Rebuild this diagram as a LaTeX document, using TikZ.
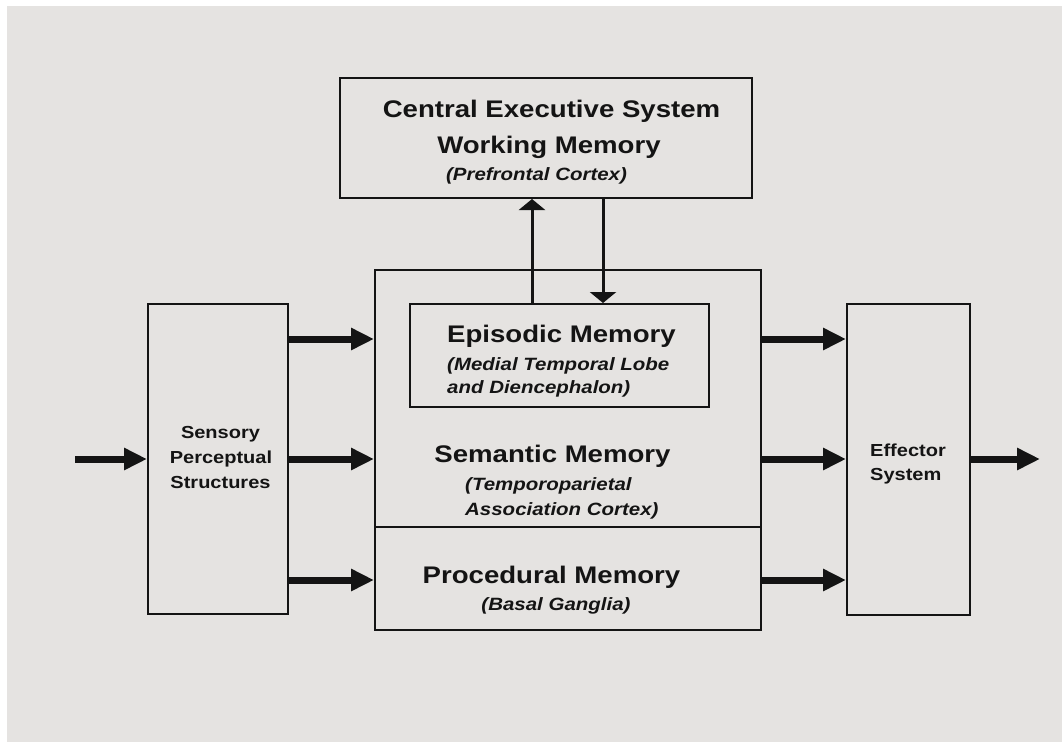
\documentclass[tikz,border=0pt]{standalone}
\usepackage{fontspec}
\setmainfont{Liberation Sans}[FakeStretch=1.15]
\usetikzlibrary{arrows.meta}
\definecolor{paper}{RGB}{229,227,225}
\definecolor{ink}{RGB}{20,20,20}
\tikzset{
  box/.style={draw=ink, line width=2pt, fill=paper, inner sep=0pt},
  bigarrow/.style={draw=ink, line width=7pt, -{Triangle[length=23pt,width=21pt]}},
  link/.style={draw=ink, line width=3pt, -{Triangle[length=11pt,width=26pt]}},
  lbl/.style={inner sep=0pt, text=ink},
  title/.style={lbl, font=\fontsize{24}{28}\selectfont\bfseries},
  sub/.style={lbl, font=\fontsize{17.8}{22}\selectfont\bfseries\itshape},
  side/.style={lbl, font=\fontsize{17.4}{22}\selectfont\bfseries}
}
\begin{document}
\begin{tikzpicture}[x=1pt,y=-1pt]
\fill[white] (0,0) rectangle (1062,742);
\fill[paper] (7,6) rectangle (1062,742);
\useasboundingbox (0,0) rectangle (1062,742);

% boxes
\node[box, minimum width=412pt, minimum height=120pt] (ces) at (546,138) {};
\node[box, minimum width=386pt, minimum height=257pt] (sem) at (568,398.5) {};
\node[box, minimum width=386pt, minimum height=103pt] (proc) at (568,578.5) {};
\node[box, minimum width=299pt, minimum height=103pt] (epi) at (559.5,355.5) {};
\node[box, minimum width=140pt, minimum height=310pt] (sens) at (218,459) {};
\node[box, minimum width=123pt, minimum height=311pt] (eff) at (908.5,459.5) {};

% texts
\node[title, anchor=base] (t1) at (551.5,117) {Central Executive System};
\node[title, anchor=base] (t2) at (549,153) {Working Memory};
\node[sub, anchor=base] (t3) at (536.5,180) {(Prefrontal Cortex)};

\node[title, anchor=base west] (e1) at (447,342) {Episodic Memory};
\node[sub, anchor=base west] (e2) at (447,370) {(Medial Temporal Lobe};
\node[sub, anchor=base west] (e3) at (447,393) {and Diencephalon)};

\node[title, anchor=base] (s1) at (552.5,462) {Semantic Memory};
\node[sub, anchor=base west] (s2) at (465,490) {(Temporoparietal};
\node[sub, anchor=base west] (s3) at (465,515) {Association Cortex)};

\node[title, anchor=base] (p1) at (551.5,583) {Procedural Memory};
\node[sub, anchor=base] (p2) at (556,610) {(Basal Ganglia)};

\node[side, anchor=base] (n1) at (220.5,438) {Sensory};
\node[side, anchor=base] (n2) at (221,463) {Perceptual};
\node[side, anchor=base] (n3) at (220.5,488) {Structures};

\node[side, anchor=base west] (f1) at (870,456) {Effector};
\node[side, anchor=base west] (f2) at (870,480) {System};

% rows and columns
\coordinate (rA) at (0,339);
\coordinate (rB) at (0,459);
\coordinate (rC) at (0,580);
\coordinate (src) at (75,459);
\coordinate (dst) at (1040,459);
\coordinate (upx) at (532,0);
\coordinate (dnx) at (603,0);

% connectors
\draw[bigarrow] (src) -- (sens.west |- src);
\draw[bigarrow] (sens.east |- rA) -- (sem.west |- rA);
\draw[bigarrow] (sens.east |- rB) -- (sem.west |- rB);
\draw[bigarrow] (sens.east |- rC) -- (proc.west |- rC);
\draw[bigarrow] (sem.east |- rA) -- (eff.west |- rA);
\draw[bigarrow] (sem.east |- rB) -- (eff.west |- rB);
\draw[bigarrow] (proc.east |- rC) -- (eff.west |- rC);
\draw[bigarrow] (eff.east |- dst) -- (dst);

\draw[link] (epi.north -| upx) -- (ces.south -| upx);
\draw[link] (ces.south -| dnx) -- (epi.north -| dnx);
\end{tikzpicture}
\end{document}
